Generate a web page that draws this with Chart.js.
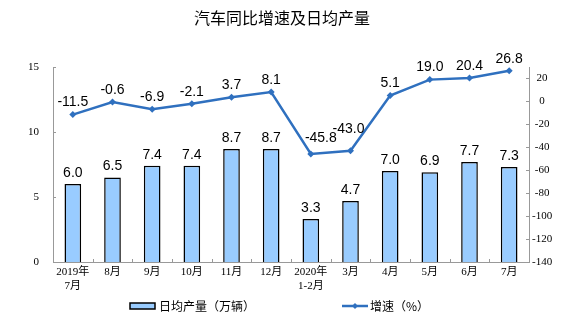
<!DOCTYPE html>
<html>
<head>
<meta charset="utf-8">
<script src="https://cdn.jsdelivr.net/npm/chart.js@4"></script>
<style>
  html, body { margin: 0; padding: 0; background: #fff; }
  #wrap { width: 575px; height: 327px; position: relative; }
</style>
</head>
<body>
<div id="wrap"><canvas id="myChart"></canvas></div>
<script>
const months = [["2019年", "7月"], "8月", "9月", "10月", "11月", "12月", ["2020年", "1-2月"], "3月", "4月", "5月", "6月", "7月"];
const dailyOutput = [6.0, 6.5, 7.4, 7.4, 8.7, 8.7, 3.3, 4.7, 7.0, 6.9, 7.7, 7.3];
const growthRate = [-11.5, -0.6, -6.9, -2.1, 3.7, 8.1, -45.8, -43.0, 5.1, 19.0, 20.4, 26.8];
const leftTicks = [0, 5, 10, 15];
const rightTicks = [-140, -120, -100, -80, -60, -40, -20, 0, 20];

const chartTitle = "汽车同比增速及日均产量";
const BLUE = "#2f70bf";
const CJK = "'Noto Sans CJK SC', sans-serif";
const SERIF = "'Liberation Serif', 'Noto Sans CJK SC', serif";

// a few growth labels sit off to avoid the line
const labelNudge = { 6: [10, -4], 7: [-2, -10] };

const valueLabels = {
  id: "valueLabels",
  afterDatasetsDraw(chart) {
    const { ctx } = chart;
    ctx.save();
    ctx.fillStyle = "#000";
    ctx.font = "14px 'Liberation Sans', Arial";
    ctx.textAlign = "center";
    ctx.textBaseline = "middle";
    chart.data.datasets.forEach((dataset, i) => {
      const meta = chart.getDatasetMeta(i);
      meta.data.forEach((el, index) => {
        const v = dataset.data[index];
        let dx = 0, dy = 0;
        if (dataset.type === "line" && labelNudge[index]) {
          dx = labelNudge[index][0];
          dy = labelNudge[index][1];
        }
        const lift = dataset.type === "line" ? 12 : 11;
        ctx.fillText(v.toFixed(1), el.x + dx, el.y - lift + dy);
      });
    });
    ctx.restore();
  },
};

// short inward tick marks, title and legend
const decorations = {
  id: "decorations",
  afterDraw(chart) {
    const { ctx, chartArea, scales } = chart;
    ctx.save();
    ctx.strokeStyle = "#999";
    ctx.lineWidth = 1;
    ctx.beginPath();
    scales.y.ticks.forEach((t) => {
      const py = Math.round(scales.y.getPixelForValue(t.value)) + 0.5;
      ctx.moveTo(chartArea.left, py);
      ctx.lineTo(chartArea.left + 3, py);
    });
    scales.y1.ticks.forEach((t) => {
      const py = Math.round(scales.y1.getPixelForValue(t.value)) + 0.5;
      ctx.moveTo(chartArea.right, py);
      ctx.lineTo(chartArea.right - 3, py);
    });
    for (let i = 1; i < months.length; i++) {
      const px = Math.round((scales.x.getPixelForTick(i - 1) + scales.x.getPixelForTick(i)) / 2) + 0.5;
      ctx.moveTo(px, chartArea.bottom);
      ctx.lineTo(px, chartArea.bottom - 3);
    }
    ctx.stroke();

    // title
    ctx.fillStyle = "#000";
    ctx.font = "16px " + CJK;
    ctx.textAlign = "center";
    ctx.textBaseline = "middle";
    ctx.fillText(chartTitle, 282, 18);

    // legend
    const ly = 306;
    const bar = chart.data.datasets.find((d) => d.type === "bar");
    const line = chart.data.datasets.find((d) => d.type === "line");
    ctx.fillStyle = bar.backgroundColor;
    ctx.fillRect(130, ly - 3, 25, 6);
    ctx.strokeStyle = "#000";
    ctx.lineWidth = 1.5;
    ctx.strokeRect(130, ly - 3, 25, 6);

    ctx.strokeStyle = line.borderColor;
    ctx.lineWidth = 2.5;
    ctx.beginPath();
    ctx.moveTo(342, ly);
    ctx.lineTo(368, ly);
    ctx.stroke();
    ctx.fillStyle = line.borderColor;
    ctx.beginPath();
    ctx.moveTo(355, ly - 3);
    ctx.lineTo(358, ly);
    ctx.lineTo(355, ly + 3);
    ctx.lineTo(352, ly);
    ctx.closePath();
    ctx.fill();

    ctx.fillStyle = "#000";
    ctx.font = "12px " + CJK;
    ctx.textAlign = "left";
    ctx.fillText(bar.label, 159, ly);
    ctx.fillText(line.label, 370, ly);
    ctx.restore();
  },
};

new Chart(document.getElementById("myChart"), {
  data: {
    labels: months,
    datasets: [
      {
        type: "line",
        label: "增速（%）",
        data: growthRate,
        yAxisID: "y1",
        borderColor: BLUE,
        backgroundColor: BLUE,
        borderWidth: 2.5,
        tension: 0,
        pointStyle: "rectRot",
        pointRadius: 3.5,
        pointBackgroundColor: BLUE,
        pointBorderWidth: 0,
        order: 1,
        clip: false,
      },
      {
        type: "bar",
        label: "日均产量（万辆）",
        data: dailyOutput,
        yAxisID: "y",
        backgroundColor: "#99ccff",
        borderColor: "#000",
        borderWidth: 1.5,
        barPercentage: 0.42,
        categoryPercentage: 1,
        order: 2,
      },
    ],
  },
  options: {
    responsive: true,
    maintainAspectRatio: false,
    animation: false,
    layout: { padding: { top: 67, right: 0, bottom: 0, left: 0 } },
    plugins: {
      legend: { display: false },
      tooltip: { enabled: false },
      title: { display: false },
    },
    scales: {
      x: {
        offset: true,
        grid: { display: false, drawTicks: false },
        border: { display: true, color: "#999" },
        ticks: {
          color: "#000",
          font: { family: SERIF, size: 11 },
          padding: 4,
          maxRotation: 0,
          autoSkip: false,
        },
        afterFit(scale) { scale.height = 65; },
      },
      y: {
        position: "left",
        min: 0,
        max: 15,
        afterBuildTicks(scale) { scale.ticks = leftTicks.map((v) => ({ value: v })); },
        grid: { display: false, drawTicks: false },
        border: { display: true, color: "#999" },
        ticks: {
          color: "#000",
          font: { family: SERIF, size: 11 },
          padding: 14,
        },
        afterFit(scale) { scale.width = 53; },
      },
      y1: {
        position: "right",
        min: -140,
        max: 30,
        afterBuildTicks(scale) { scale.ticks = rightTicks.map((v) => ({ value: v })); },
        grid: { display: false, drawTicks: false },
        border: { display: true, color: "#999" },
        ticks: {
          color: "#000",
          font: { family: SERIF, size: 11 },
          padding: 3,
          crossAlign: "center",
        },
        afterFit(scale) { scale.width = 46; },
      },
    },
  },
  plugins: [valueLabels, decorations],
});
</script>
</body>
</html>
